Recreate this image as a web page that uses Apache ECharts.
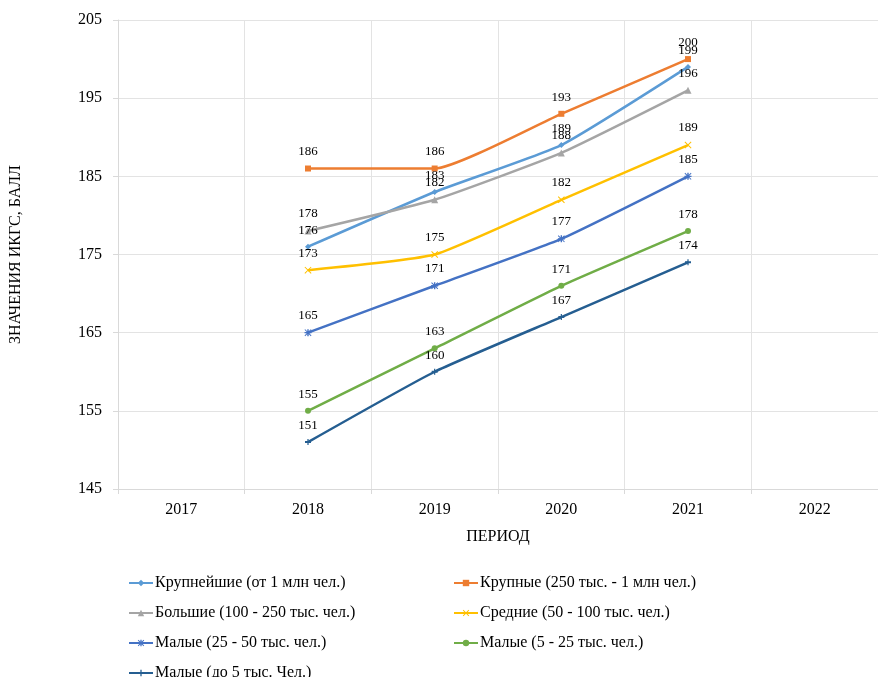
<!DOCTYPE html>
<html>
<head>
<meta charset="utf-8">
<script src="https://cdn.jsdelivr.net/npm/echarts@6/dist/echarts.min.js"></script>
<style>
html, body { margin: 0; padding: 0; background: #fff; }
#main { width: 878px; height: 677px; }
</style>
</head>
<body>
<div id="main"></div>
<script>
// данные
const years = ['2017', '2018', '2019', '2020', '2021', '2022'];
const krupneishie = [null, 176, 183, 189, 199, null];
const krupnye = [null, 186, 186, 193, 200, null];
const bolshie = [null, 178, 182, 188, 196, null];
const srednie = [null, 173, 175, 182, 189, null];
const malye25_50 = [null, 165, 171, 177, 185, null];
const malye5_25 = [null, 155, 163, 171, 178, null];
const malyeDo5 = [null, 151, 160, 167, 174, null];
const seriesNames = [
    'Крупнейшие (от 1 млн чел.)',
    'Крупные (250 тыс. - 1 млн чел.)',
    'Большие (100 - 250 тыс. чел.)',
    'Средние (50 - 100 тыс. чел.)',
    'Малые (25 - 50 тыс. чел.)',
    'Малые (5 - 25 тыс. чел.)',
    'Малые (до 5 тыс. Чел.)'
];

const FONT = '"Liberation Serif", "DejaVu Serif", serif';
const xPath = 'path://M0,0 L10,10 M10,0 L0,10 M1,0 L10,9 L9,10 L0,1 Z M9,0 L10,1 L1,10 L0,9 Z';
const starPath = 'path://M4,0 L6,0 L6,10 L4,10 Z M0,4 L10,4 L10,6 L0,6 Z M1,0 L10,9 L9,10 L0,1 Z M9,0 L10,1 L1,10 L0,9 Z';
const plusPath = 'path://M0,4 L10,4 L10,6 L0,6 Z M4,2 L6,2 L6,8 L4,8 Z';

function mkSeries(name, data, color, symbol, size) {
    return {
        name: name,
        type: 'line',
        data: data,
        smooth: 0.15,
        symbol: symbol,
        symbolSize: size,
        showAllSymbol: true,
        lineStyle: { color: color, width: 2.5 },
        itemStyle: { color: color },
        label: {
            show: true,
            position: 'top',
            distance: 7,
            color: '#000',
            fontFamily: FONT,
            fontSize: 13
        }
    };
}

// легенда: каждый пункт отдельно, две колонки
const legendPos = [
    [128, 575], [453, 575],
    [128, 605], [453, 605],
    [128, 635], [453, 635],
    [128, 665]
];
const legends = seriesNames.map(function (n, i) {
    return {
        left: legendPos[i][0], top: legendPos[i][1],
        padding: 0,
        itemWidth: 24, itemHeight: 8,
        textStyle: { fontFamily: FONT, fontSize: 16, color: '#000', padding: [0, 0, 0, -3] },
        data: [n]
    };
});

const chart = echarts.init(document.getElementById('main'));
const option = {
    animation: false,
    backgroundColor: '#fff',
    textStyle: { fontFamily: FONT },
    grid: { left: 118, top: 20, width: 767, height: 469 },
    legend: legends,
    xAxis: {
        type: 'category',
        data: years,
        boundaryGap: true,
        name: 'ПЕРИОД',
        nameLocation: 'middle',
        nameGap: 40,
        nameTextStyle: { fontFamily: FONT, fontSize: 16, color: '#000' },
        axisLine: { lineStyle: { color: '#d9d9d9' } },
        axisTick: { show: true, length: 5, lineStyle: { color: '#d9d9d9' } },
        axisLabel: { fontFamily: FONT, fontSize: 16, color: '#000', margin: 13 },
        splitLine: { show: true, lineStyle: { color: '#e3e3e3' } }
    },
    yAxis: {
        type: 'value',
        min: 145,
        max: 205,
        interval: 10,
        name: 'ЗНАЧЕНИЯ ИКГС, БАЛЛ',
        nameLocation: 'middle',
        nameGap: 94,
        nameRotate: 90,
        nameTextStyle: { fontFamily: FONT, fontSize: 16, color: '#000' },
        axisLine: { show: true, lineStyle: { color: '#d9d9d9' } },
        axisTick: { show: true, length: 5, lineStyle: { color: '#d9d9d9' } },
        axisLabel: { fontFamily: FONT, fontSize: 16, color: '#000', margin: 16 },
        splitLine: { show: true, lineStyle: { color: '#e3e3e3' } }
    },
    series: [
        mkSeries(seriesNames[0], krupneishie, '#5B9BD5', 'diamond', 6),
        mkSeries(seriesNames[1], krupnye, '#ED7D31', 'rect', 6),
        mkSeries(seriesNames[2], bolshie, '#A5A5A5', 'triangle', 7),
        mkSeries(seriesNames[3], srednie, '#FFC000', xPath, 7),
        mkSeries(seriesNames[4], malye25_50, '#4472C4', starPath, 7),
        mkSeries(seriesNames[5], malye5_25, '#70AD47', 'circle', 6),
        mkSeries(seriesNames[6], malyeDo5, '#255E91', plusPath, 6)
    ]
};
chart.setOption(option);
</script>
</body>
</html>
